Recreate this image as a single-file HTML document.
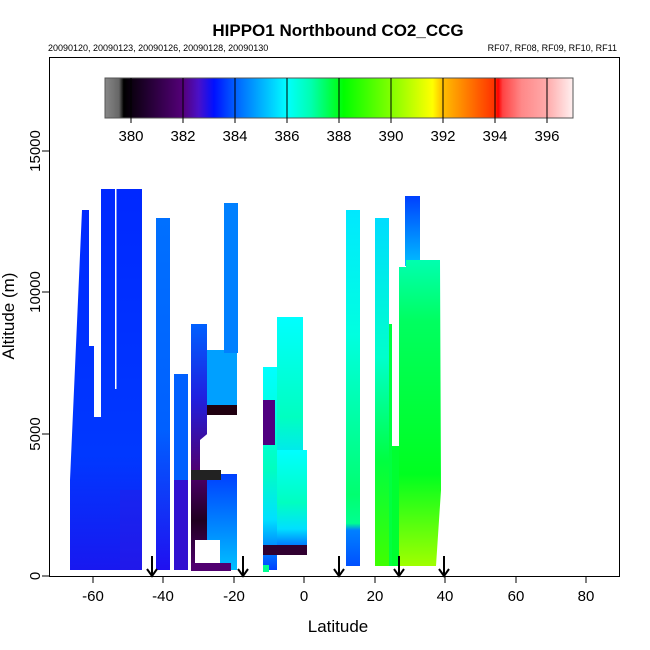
<!DOCTYPE html>
<html><head><style>body{margin:0;background:#fff}svg{display:block;font-family:"Liberation Sans",sans-serif}</style></head>
<body>
<svg width="650" height="650" viewBox="0 0 650 650">
<defs>
<linearGradient id="cb" x1="0" x2="1">
<stop offset="0" stop-color="#888"/><stop offset="0.03" stop-color="#666"/><stop offset="0.04" stop-color="#000"/>
<stop offset="0.167" stop-color="#55007a"/><stop offset="0.2" stop-color="#4a10c8"/><stop offset="0.233" stop-color="#0010ff"/>
<stop offset="0.278" stop-color="#0060ff"/><stop offset="0.389" stop-color="#00ffff"/><stop offset="0.44" stop-color="#00ffb0"/>
<stop offset="0.51" stop-color="#00ff00"/><stop offset="0.61" stop-color="#80ff00"/><stop offset="0.7" stop-color="#ffff00"/>
<stop offset="0.72" stop-color="#ffc000"/><stop offset="0.833" stop-color="#ff3000"/><stop offset="0.84" stop-color="#ff0000"/>
<stop offset="0.85" stop-color="#ff4444"/><stop offset="0.89" stop-color="#ff8888"/><stop offset="0.944" stop-color="#ffaaaa"/><stop offset="1" stop-color="#fff0f0"/>
</linearGradient>
<linearGradient id="g1" x1="0" y1="0" x2="0" y2="1"><stop offset="0" stop-color="#0028ff"/><stop offset="0.7" stop-color="#0038ff"/><stop offset="1" stop-color="#1818f0"/></linearGradient>
<linearGradient id="g2" x1="0" y1="0" x2="0" y2="1"><stop offset="0" stop-color="#0070ff"/><stop offset="0.6" stop-color="#0060ff"/><stop offset="1" stop-color="#2010f0"/></linearGradient>
<linearGradient id="g4" x1="0" y1="0" x2="0" y2="1"><stop offset="0" stop-color="#00ffff"/><stop offset="0.5" stop-color="#00ffc0"/><stop offset="0.75" stop-color="#00e0ff"/><stop offset="1" stop-color="#0040ff"/></linearGradient>
<linearGradient id="g5" x1="0" y1="0" x2="0" y2="1"><stop offset="0" stop-color="#00e8ff"/><stop offset="0.35" stop-color="#00ffe0"/><stop offset="0.8" stop-color="#00ff70"/><stop offset="0.88" stop-color="#00ff90"/><stop offset="0.9" stop-color="#0080ff"/><stop offset="1" stop-color="#0050ff"/></linearGradient>
<linearGradient id="g6" x1="0" y1="0" x2="0" y2="1"><stop offset="0" stop-color="#00ddff"/><stop offset="0.4" stop-color="#00ffcc"/><stop offset="0.7" stop-color="#00ff40"/><stop offset="1" stop-color="#40ff00"/></linearGradient>
<linearGradient id="g7" x1="0" y1="0" x2="0" y2="1"><stop offset="0" stop-color="#00ffb0"/><stop offset="0.2" stop-color="#00ff60"/><stop offset="0.7" stop-color="#00ff20"/><stop offset="1" stop-color="#a0ff00"/></linearGradient>
<linearGradient id="g8" x1="0" y1="0" x2="0" y2="1"><stop offset="0" stop-color="#0040ff"/><stop offset="1" stop-color="#00c0ff"/></linearGradient>
<linearGradient id="g9" x1="0" y1="0" x2="0" y2="1"><stop offset="0" stop-color="#0060ff"/><stop offset="0.3" stop-color="#2020e0"/><stop offset="0.6" stop-color="#500070"/><stop offset="0.8" stop-color="#200020"/><stop offset="1" stop-color="#500070"/></linearGradient>
</defs>
<text x="338" y="36" font-size="17" font-weight="bold" text-anchor="middle">HIPPO1 Northbound CO2_CCG</text>
<text x="48" y="51" font-size="9">20090120, 20090123, 20090126, 20090128, 20090130</text>
<text x="617" y="51" font-size="9" text-anchor="end">RF07, RF08, RF09, RF10, RF11</text>
<rect x="105" y="78" width="468" height="40" fill="url(#cb)" stroke="#555"/>
<g stroke="#000" stroke-width="1">
<line x1="131" y1="78" x2="131" y2="123"/><line x1="183" y1="78" x2="183" y2="123"/><line x1="235" y1="78" x2="235" y2="123"/><line x1="287" y1="78" x2="287" y2="123"/><line x1="339" y1="78" x2="339" y2="123"/><line x1="391" y1="78" x2="391" y2="123"/><line x1="443" y1="78" x2="443" y2="123"/><line x1="495" y1="78" x2="495" y2="123"/><line x1="547" y1="78" x2="547" y2="123"/>
</g>
<g font-size="15" text-anchor="middle">
<text x="131" y="141">380</text><text x="183" y="141">382</text><text x="235" y="141">384</text><text x="287" y="141">386</text><text x="339" y="141">388</text><text x="391" y="141">390</text><text x="443" y="141">392</text><text x="495" y="141">394</text><text x="547" y="141">396</text>
</g>
<polygon points="70,570 70,480 82,210 89,210 89,346 94,346 94,417 101,417 101,189 142,189 142,331 142,570" fill="url(#g1)"/>
<rect x="115" y="189" width="1.5" height="200" fill="#fff"/>
<rect x="120" y="490" width="22" height="80" fill="#3018e0" opacity="0.4"/>
<rect x="156" y="218" width="14" height="352" fill="url(#g2)"/>
<rect x="174" y="374" width="14" height="110" fill="#0060ff"/>
<rect x="174" y="480" width="14" height="90" fill="#3010d0"/>
<rect x="191" y="324" width="16" height="246" fill="url(#g9)"/>
<rect x="207" y="350" width="30" height="55" fill="#00a0ff"/>
<rect x="224" y="203" width="14" height="150" fill="#0080ff"/>
<rect x="207" y="405" width="30" height="10" fill="#200010"/>
<rect x="207" y="474" width="30" height="96" fill="url(#g8)"/>
<rect x="191" y="470" width="30" height="10" fill="#222"/>
<rect x="195" y="540" width="25" height="30" fill="#fff"/>
<rect x="191" y="563" width="40" height="8" fill="#500070"/>
<polygon points="200,470 200,440 230,415 237,415 237,420 214,470" fill="#fff"/>
<rect x="263" y="367" width="14" height="203" fill="url(#g4)"/>
<rect x="277" y="317" width="26" height="200" fill="url(#g4)"/>
<rect x="277" y="450" width="30" height="105" fill="url(#g4)"/>
<rect x="263" y="400" width="12" height="45" fill="#500080"/>
<rect x="263" y="545" width="44" height="10" fill="#300030"/>
<rect x="263" y="565" width="6" height="7" fill="#00ff90"/>
<rect x="346" y="210" width="14" height="356" fill="url(#g5)"/>
<rect x="375" y="218" width="14" height="348" fill="url(#g6)"/>
<rect x="389" y="324" width="3" height="242" fill="#00ff40"/>
<rect x="392" y="446" width="8" height="120" fill="#00ff30"/>
<rect x="405" y="196" width="15" height="70" fill="url(#g8)"/>
<polygon points="399,374 399,267 406,267 406,260 440,260 441,490 436,566 399,566" fill="url(#g7)"/>
<g stroke="#000" stroke-width="2" fill="none">
<path d="M152,556V576M147,569L152,576L157,569"/>
<path d="M243,556V576M238,569L243,576L248,569"/>
<path d="M339,556V576M334,569L339,576L344,569"/>
<path d="M399,556V576M394,569L399,576L404,569"/>
<path d="M444,556V576M439,569L444,576L449,569"/>
</g>
<rect x="49.5" y="57.5" width="570" height="519" fill="none" stroke="#000"/>
<g stroke="#000">
<line x1="93" y1="576" x2="93" y2="583"/><line x1="163" y1="576" x2="163" y2="583"/><line x1="234" y1="576" x2="234" y2="583"/><line x1="304" y1="576" x2="304" y2="583"/><line x1="375" y1="576" x2="375" y2="583"/><line x1="445" y1="576" x2="445" y2="583"/><line x1="516" y1="576" x2="516" y2="583"/><line x1="586" y1="576" x2="586" y2="583"/>
<line x1="42" y1="576" x2="49" y2="576"/><line x1="42" y1="434" x2="49" y2="434"/><line x1="42" y1="292" x2="49" y2="292"/><line x1="42" y1="151" x2="49" y2="151"/>
</g>
<g font-size="15" text-anchor="middle">
<text x="93" y="601">-60</text><text x="163" y="601">-40</text><text x="234" y="601">-20</text><text x="304" y="601">0</text><text x="375" y="601">20</text><text x="445" y="601">40</text><text x="516" y="601">60</text><text x="586" y="601">80</text>
<text transform="translate(40,576) rotate(-90)">0</text>
<text transform="translate(40,434) rotate(-90)">5000</text>
<text transform="translate(40,292) rotate(-90)">10000</text>
<text transform="translate(40,151) rotate(-90)">15000</text>
</g>
<text x="338" y="632" font-size="17" text-anchor="middle">Latitude</text>
<text transform="translate(14,316) rotate(-90)" font-size="17" text-anchor="middle">Altitude (m)</text>
</svg>
</body></html>
